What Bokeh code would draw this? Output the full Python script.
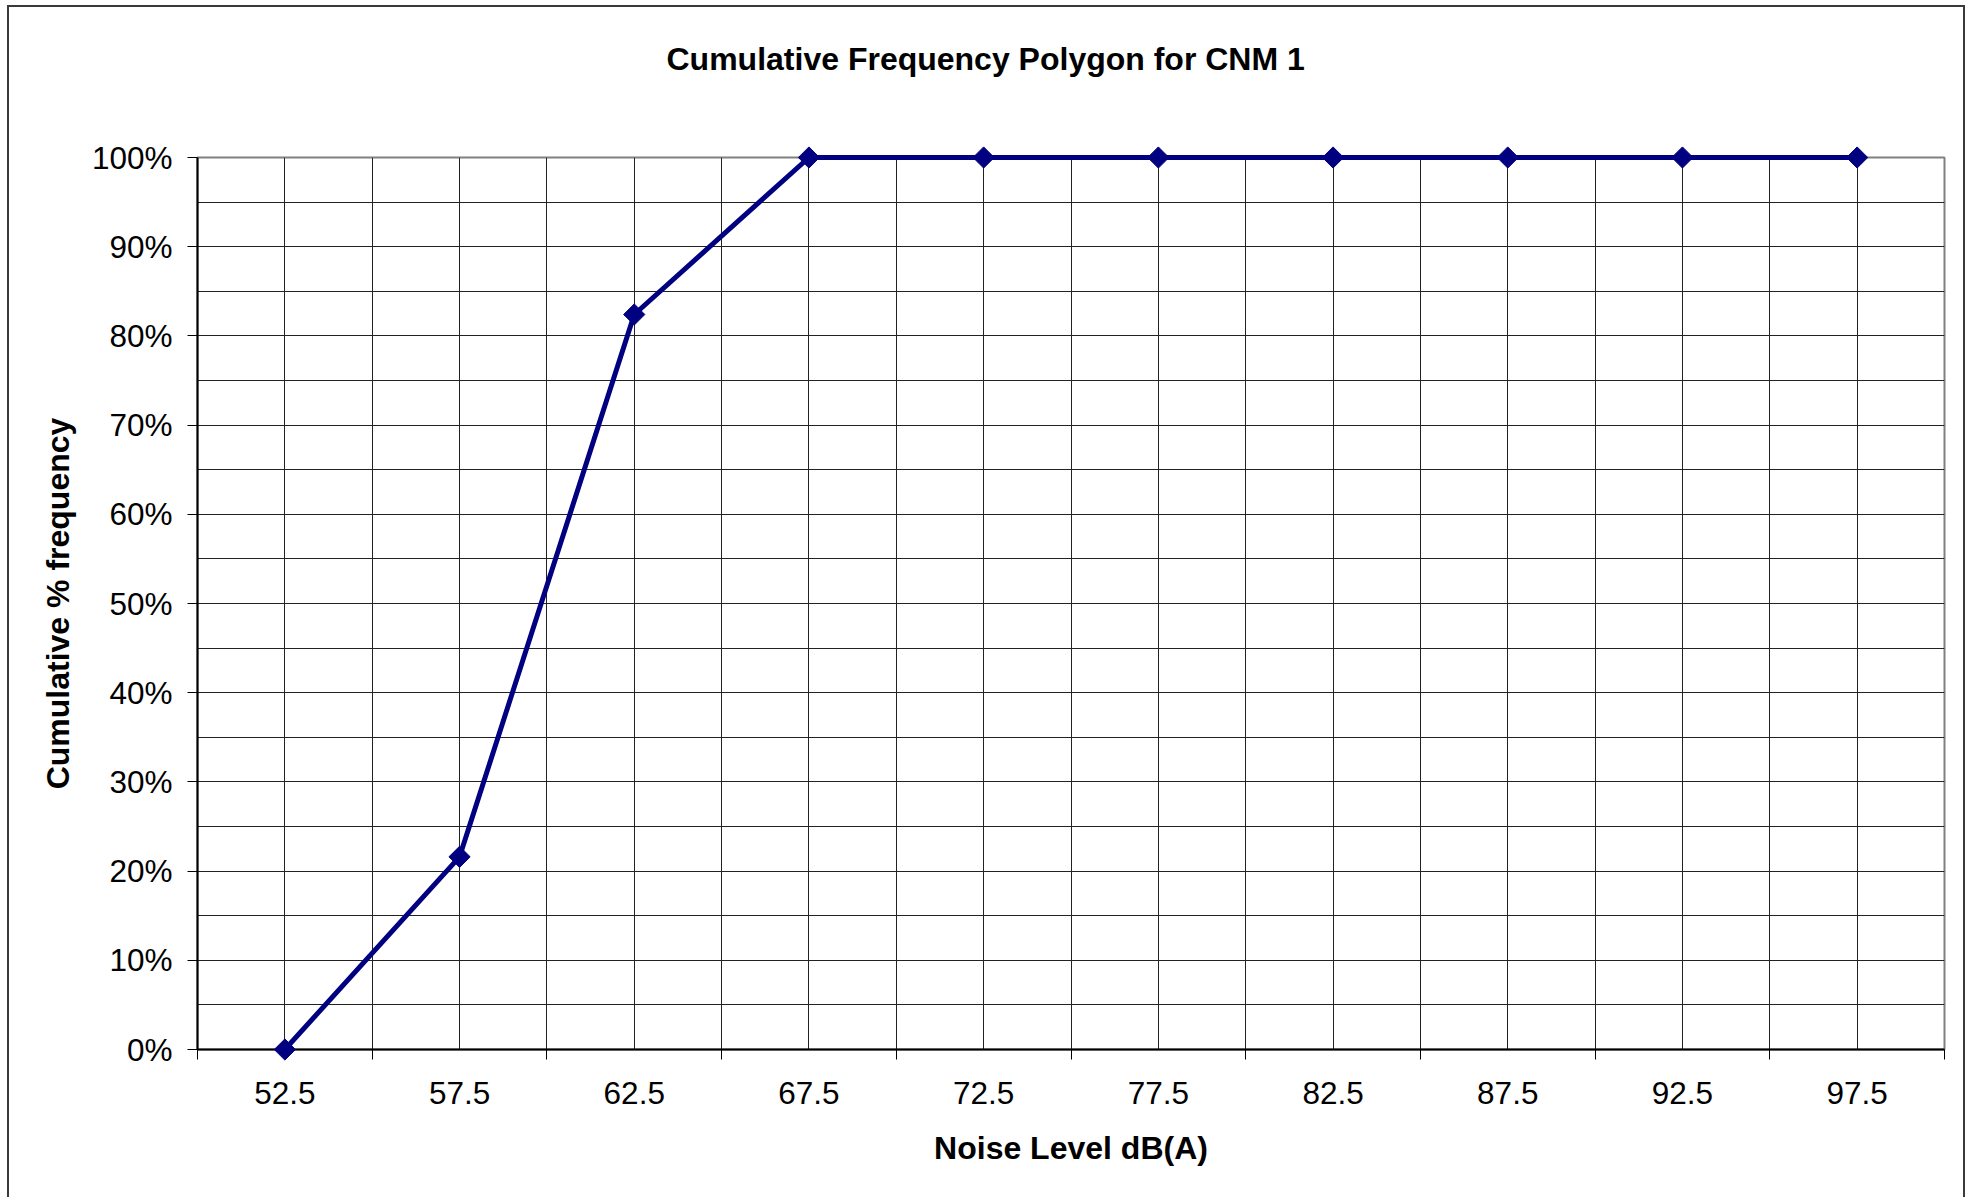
import numpy as np
from bokeh.plotting import figure
from bokeh.models import Range1d, FixedTicker, PrintfTickFormatter, ColumnDataSource, Title
from bokeh.embed import file_html
from bokeh.resources import INLINE

# ---- data ----
noise_levels = ["52.5", "57.5", "62.5", "67.5", "72.5", "77.5", "82.5", "87.5", "92.5", "97.5"]
cum_pct = [0, 21.6, 82.4, 100, 100, 100, 100, 100, 100, 100]
y_tick_values = [0, 10, 20, 30, 40, 50, 60, 70, 80, 90, 100]

title_text = "Cumulative Frequency Polygon for CNM 1"
x_label = "Noise Level dB(A)"
y_label = "Cumulative % frequency"

n = len(noise_levels)
xpos = [i + 0.5 for i in range(n)]
src = ColumnDataSource(data=dict(x=xpos, y=cum_pct))

FONT = "Liberation Sans"
NAVY = "#000080"

p = figure(width=1958, height=1192,
           x_range=Range1d(0, n), y_range=Range1d(0, 100),
           output_backend="svg", toolbar_location=None,
           min_border_left=188, min_border_right=23,
           min_border_top=150, min_border_bottom=150,
           background_fill_color="white", border_fill_color="white")

p.styles = {"margin-left": "7px", "margin-top": "5px",
            "border-left": "2px solid #3a3a3a",
            "border-top": "2px solid #3a3a3a",
            "border-right": "2px solid #3a3a3a"}

# spacer between title and plot area
p.add_layout(Title(text=" ", text_font_size="10px", standoff=63), "above")

# title
p.title.text = title_text
p.title.text_font = FONT
p.title.text_font_size = "32px"
p.title.text_font_style = "bold"
p.title.text_color = "black"
p.title.align = "left"
p.title.offset = 469
p.title.standoff = 10

# frame outline
p.outline_line_color = "#808080"
p.outline_line_width = 2

# x axis
xa = p.xaxis[0]
xa.ticker = FixedTicker(ticks=xpos, minor_ticks=list(range(n + 1)))
xa.major_label_overrides = {x: lab for x, lab in zip(xpos, noise_levels)}
xa.major_tick_out = 0
xa.major_tick_in = 0
xa.minor_tick_out = 10
xa.minor_tick_in = 0
xa.minor_tick_line_color = "black"
xa.minor_tick_line_width = 1
xa.axis_line_color = "black"
xa.axis_line_width = 2
xa.major_label_text_font = FONT
xa.major_label_text_font_size = "31.5px"
xa.major_label_text_color = "black"
xa.major_label_standoff = 22
xa.axis_label = x_label
xa.axis_label_text_font = FONT
xa.axis_label_text_font_size = "32px"
xa.axis_label_text_font_style = "bold"
xa.axis_label_text_color = "black"
xa.axis_label_standoff = 23

# y axis
ya = p.yaxis[0]
ya.ticker = FixedTicker(ticks=y_tick_values,
                        minor_ticks=[v + 5 for v in y_tick_values[:-1]])
ya.formatter = PrintfTickFormatter(format="%d%%")
ya.major_tick_out = 10
ya.major_tick_in = 0
ya.minor_tick_out = 0
ya.minor_tick_in = 0
ya.major_tick_line_color = "black"
ya.major_tick_line_width = 1
ya.axis_line_color = "black"
ya.axis_line_width = 2
ya.major_label_text_font = FONT
ya.major_label_text_font_size = "31.5px"
ya.major_label_text_color = "black"
ya.major_label_standoff = 15
ya.axis_label = y_label
ya.axis_label_text_font = FONT
ya.axis_label_text_font_size = "32px"
ya.axis_label_text_font_style = "bold"
ya.axis_label_text_color = "black"
ya.axis_label_standoff = 13

# grids
for g in (p.xgrid[0], p.ygrid[0]):
    g.grid_line_color = "#222222"
    g.grid_line_width = 1
    g.minor_grid_line_color = "#222222"
    g.minor_grid_line_width = 1

# series
p.line("x", "y", source=src, line_color=NAVY, line_width=5, level="overlay")
p.scatter("x", "y", source=src, marker="square", angle=np.pi / 4, size=15,
          fill_color=NAVY, line_color=NAVY, level="overlay")

open("out.html", "w").write(file_html(p, INLINE))
